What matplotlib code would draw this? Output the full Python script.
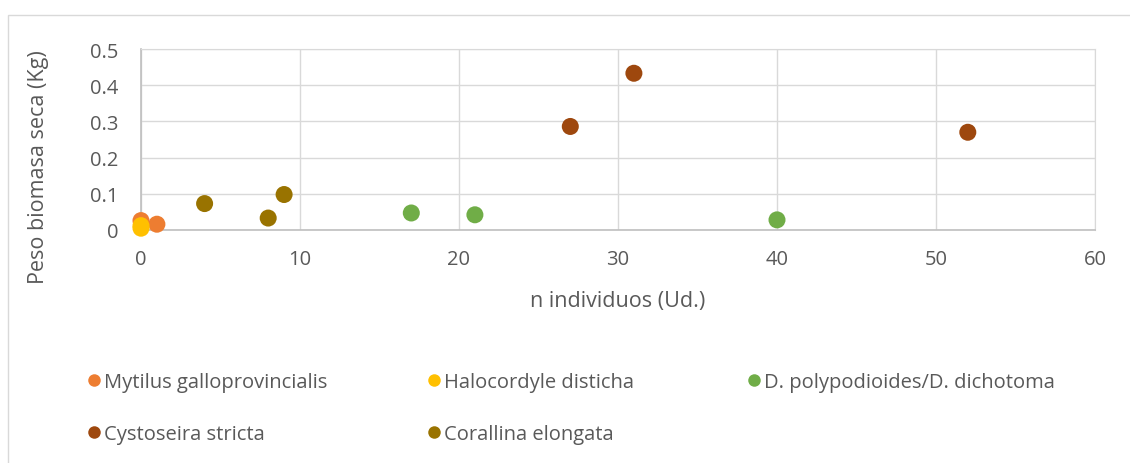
import matplotlib
matplotlib.use("Agg")
import matplotlib.pyplot as plt
from matplotlib.lines import Line2D
from matplotlib.patches import Rectangle

plt.rcParams['font.family'] = ['Open Sans', 'DejaVu Sans']

series_names = ["Mytilus galloprovincialis", "Halocordyle disticha",
                "D. polypodioides/D. dichotoma", "Cystoseira stricta", "Corallina elongata"]
series_colors = ["#ED7D31", "#FFC000", "#70AD47", "#9E480E", "#997300"]

mytilus_x = [0, 1]
mytilus_y = [0.026, 0.016]
halocordyle_x = [0, 0]
halocordyle_y = [0.012, 0.005]
dpoly_x = [17, 21, 40]
dpoly_y = [0.047, 0.042, 0.028]
cystoseira_x = [27, 31, 52]
cystoseira_y = [0.286, 0.433, 0.270]
corallina_x = [4, 8, 9]
corallina_y = [0.073, 0.033, 0.098]

xs = [mytilus_x, halocordyle_x, dpoly_x, cystoseira_x, corallina_x]
ys = [mytilus_y, halocordyle_y, dpoly_y, cystoseira_y, corallina_y]

x_ticks = [0, 10, 20, 30, 40, 50, 60]
y_ticks = [0, 0.1, 0.2, 0.3, 0.4, 0.5]
y_ticklabels = ["0", "0.1", "0.2", "0.3", "0.4", "0.5"]

W, H = 1130, 464
fig = plt.figure(figsize=(W / 100, H / 100), dpi=100)
fig.patches.append(Rectangle((8 / W, -0.1), 1.2, 1 - 16 / H + 0.1, transform=fig.transFigure,
                             fill=False, edgecolor="#d9d9d9", linewidth=1))

ax = fig.add_axes([141 / W, 1 - 231 / H, (1095 - 141) / W, (231 - 50) / H])
handles = []
for i in range(5):
    ax.scatter(xs[i], ys[i], s=150, color=series_colors[i], edgecolors="none",
               zorder=3 + i * 0.1, clip_on=False)
    handles.append(Line2D([], [], marker="o", linestyle="none", markersize=9,
                          markerfacecolor=series_colors[i], markeredgecolor="none",
                          label=series_names[i]))

ax.set_xlim(0, 60)
ax.set_ylim(0, 0.5)
ax.set_xticks(x_ticks)
ax.set_yticks(y_ticks)
ax.set_yticklabels(y_ticklabels)
ax.grid(True, color="#d9d9d9", linewidth=1)
ax.set_axisbelow(True)
for s in ["top", "right"]:
    ax.spines[s].set_color("#d9d9d9")
for s in ["left", "bottom"]:
    ax.spines[s].set_color("#bfbfbf")
    ax.spines[s].set_linewidth(1.2)
ax.tick_params(axis="y", length=0, labelsize=14.5, labelcolor="#595959", pad=16)
ax.tick_params(axis="x", length=0, labelsize=14.5, labelcolor="#595959", pad=14)
ax.set_xlabel("n individuos (Ud.)", fontsize=15.5, color="#595959", labelpad=15)
ax.set_ylabel("Peso biomasa seca (Kg)", fontsize=15.5, color="#595959")
ax.yaxis.set_label_coords(-(141 - 49) / (1095 - 141), (231 - 167) / 181)

cols = [[0, 3], [1, 4], [2]]
col_x = [84, 424, 744]
for c, xpix in zip(cols, col_x):
    leg = fig.legend(handles=[handles[k] for k in c], loc="upper left",
                     bbox_to_anchor=(xpix / W, 1 - 373 / H), frameon=False,
                     fontsize=14.5, handletextpad=0.0, handlelength=1.0,
                     labelspacing=1.6, borderaxespad=0, borderpad=0)
    for t in leg.get_texts():
        t.set_color("#595959")

fig.savefig("out.png", dpi=100)
